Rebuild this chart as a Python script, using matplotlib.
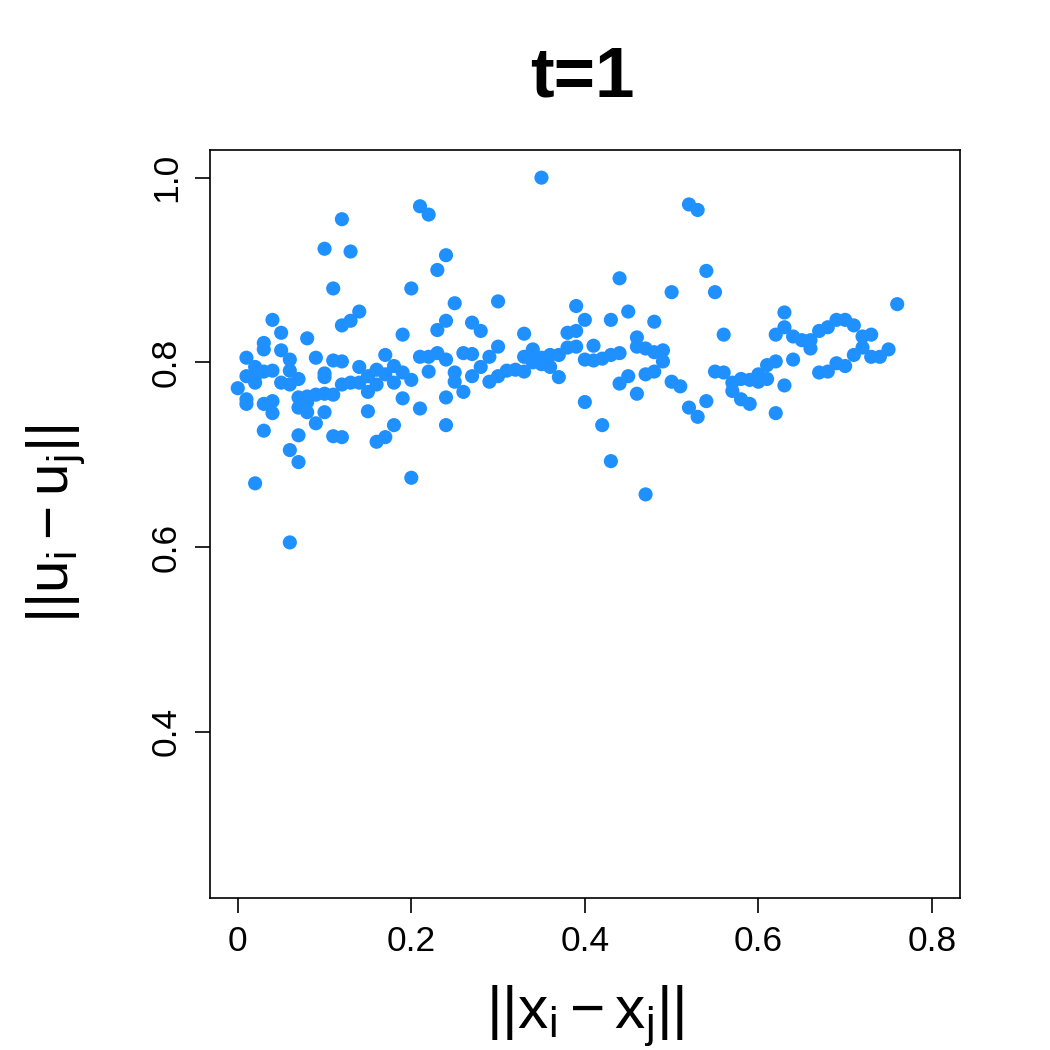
import matplotlib
matplotlib.use("Agg")
import matplotlib.pyplot as plt

# distances ||x_i - x_j|| and ||u_i - u_j||
dist_x = [0.00,
          0.01, 0.01, 0.01, 0.01,
          0.02, 0.02, 0.02, 0.02,
          0.03, 0.03, 0.03, 0.03, 0.03,
          0.04, 0.04, 0.04, 0.04,
          0.05, 0.05, 0.05,
          0.06, 0.06, 0.06, 0.06, 0.06,
          0.07, 0.07, 0.07, 0.07, 0.07,
          0.08, 0.08, 0.08, 0.08,
          0.09, 0.09, 0.09,
          0.10, 0.10, 0.10, 0.10, 0.10,
          0.11, 0.11, 0.11, 0.11,
          0.12, 0.12, 0.12, 0.12, 0.12,
          0.13, 0.13, 0.13,
          0.14, 0.14, 0.14,
          0.15, 0.15, 0.15,
          0.16, 0.16, 0.16,
          0.17, 0.17, 0.17,
          0.18, 0.18, 0.18,
          0.19, 0.19, 0.19,
          0.20, 0.20, 0.20,
          0.21, 0.21, 0.21,
          0.22, 0.22, 0.22,
          0.23, 0.23, 0.23,
          0.24, 0.24, 0.24, 0.24, 0.24,
          0.25, 0.25, 0.25,
          0.26, 0.26,
          0.27, 0.27, 0.27,
          0.28, 0.28,
          0.29, 0.29,
          0.30, 0.30, 0.30,
          0.31,
          0.32,
          0.33, 0.33, 0.33,
          0.34, 0.34,
          0.35, 0.35, 0.35,
          0.36, 0.36,
          0.37, 0.37,
          0.38, 0.38,
          0.39, 0.39, 0.39,
          0.40, 0.40, 0.40,
          0.41, 0.41,
          0.42, 0.42,
          0.43, 0.43, 0.43,
          0.44, 0.44, 0.44,
          0.45, 0.45,
          0.46, 0.46, 0.46,
          0.47, 0.47, 0.47,
          0.48, 0.48, 0.48,
          0.49, 0.49,
          0.50, 0.50,
          0.51,
          0.52, 0.52,
          0.53, 0.53,
          0.54, 0.54,
          0.55, 0.55,
          0.56, 0.56,
          0.57, 0.57,
          0.58, 0.58,
          0.59, 0.59,
          0.60, 0.60,
          0.61, 0.61,
          0.62, 0.62, 0.62,
          0.63, 0.63, 0.63,
          0.64, 0.64,
          0.65,
          0.66, 0.66,
          0.67, 0.67,
          0.68, 0.68,
          0.69, 0.69,
          0.70, 0.70,
          0.71, 0.71,
          0.72, 0.72,
          0.73, 0.73,
          0.74,
          0.75,
          0.76]

dist_u = [0.772,
          0.805, 0.785, 0.760, 0.755,
          0.669, 0.795, 0.785, 0.778,
          0.821, 0.814, 0.755, 0.726, 0.790,
          0.846, 0.791, 0.758, 0.745,
          0.832, 0.813, 0.778,
          0.605, 0.705, 0.803, 0.776, 0.791,
          0.692, 0.721, 0.782, 0.762, 0.751,
          0.826, 0.757, 0.746, 0.763,
          0.734, 0.805, 0.765,
          0.923, 0.788, 0.784, 0.746, 0.766,
          0.880, 0.802, 0.720, 0.765,
          0.955, 0.840, 0.801, 0.719, 0.776,
          0.920, 0.845, 0.778,
          0.855, 0.795, 0.778,
          0.785, 0.747, 0.768,
          0.714, 0.776, 0.792,
          0.719, 0.808, 0.787,
          0.732, 0.796, 0.778,
          0.830, 0.761, 0.789,
          0.880, 0.675, 0.781,
          0.969, 0.750, 0.806,
          0.960, 0.790, 0.806,
          0.900, 0.835, 0.810,
          0.916, 0.845, 0.762, 0.732, 0.803,
          0.864, 0.789, 0.779,
          0.768, 0.810,
          0.843, 0.785, 0.809,
          0.834, 0.795,
          0.779, 0.806,
          0.866, 0.817, 0.785,
          0.791,
          0.792,
          0.831, 0.806, 0.790,
          0.814, 0.800,
          1.000, 0.798, 0.805,
          0.808, 0.795,
          0.808, 0.784,
          0.832, 0.816,
          0.861, 0.834, 0.817,
          0.757, 0.846, 0.803,
          0.818, 0.802,
          0.732, 0.804,
          0.693, 0.846, 0.808,
          0.891, 0.777, 0.810,
          0.855, 0.785,
          0.766, 0.827, 0.817,
          0.657, 0.815, 0.787,
          0.844, 0.790, 0.811,
          0.813, 0.801,
          0.876, 0.779,
          0.774,
          0.971, 0.751,
          0.965, 0.741,
          0.899, 0.758,
          0.876, 0.790,
          0.830, 0.789,
          0.778, 0.769,
          0.760, 0.782,
          0.755, 0.781,
          0.779, 0.787,
          0.782, 0.797,
          0.745, 0.830, 0.801,
          0.854, 0.838, 0.775,
          0.828, 0.803,
          0.824,
          0.824, 0.815,
          0.789, 0.834,
          0.790, 0.838,
          0.846, 0.799,
          0.846, 0.796,
          0.840, 0.808,
          0.828, 0.816,
          0.830, 0.806,
          0.806,
          0.814,
          0.863]

x_ticks = [0, 0.2, 0.4, 0.6, 0.8]
x_ticklabels = ["0", "0.2", "0.4", "0.6", "0.8"]
y_ticks = [0.4, 0.6, 0.8, 1.0]
y_ticklabels = ["0.4", "0.6", "0.8", "1.0"]

plt.rcParams['font.family'] = ['Liberation Sans', 'DejaVu Sans']
plt.rcParams['mathtext.fontset'] = 'custom'
plt.rcParams['mathtext.rm'] = 'Liberation Sans'
plt.rcParams['mathtext.it'] = 'Liberation Sans'

fig = plt.figure(figsize=(7, 7), dpi=150)
ax = fig.add_axes([0.2, 0.1448, 0.714, 0.7124])

ax.scatter(dist_x, dist_u, s=46, color='#1E90FF', edgecolors='none', zorder=3)

# R-style limits (4% padding)
ax.set_xlim(-0.032, 0.832)
ax.set_ylim(0.22, 1.03)

ax.set_xticks(x_ticks)
ax.set_xticklabels(x_ticklabels)
ax.set_yticks(y_ticks)
ax.set_yticklabels(y_ticklabels, rotation=90, va='center')
ax.tick_params(axis='both', direction='out', length=7, width=0.8,
               labelsize=17, pad=6)

for sp in ax.spines.values():
    sp.set_linewidth(0.8)

ax.set_xlabel(r'$||\mathrm{x_i} - \mathrm{x_j}||$', fontsize=29, labelpad=12)
ax.set_ylabel(r'$||\mathrm{u_i} - \mathrm{u_j}||$', fontsize=28, labelpad=30)

fig.text(0.555, 0.925, 't=1', fontsize=34, fontweight='bold',
         ha='center', va='center')

fig.savefig('out.png', dpi=150, facecolor='white')
